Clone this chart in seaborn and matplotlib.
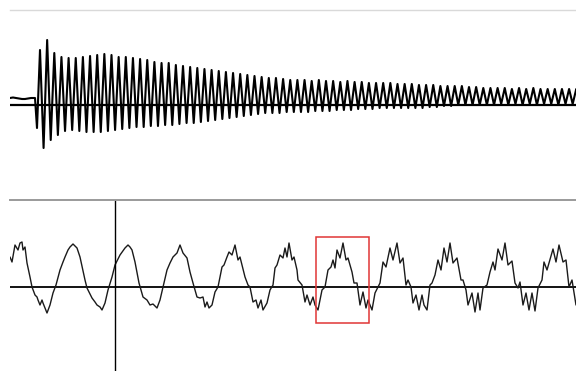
import numpy as np
import pandas as pd
import matplotlib
matplotlib.use("Agg")
import matplotlib.pyplot as plt
import seaborn as sns

# ---- upper trace: plucked tone, one peak and one trough per cycle ----
pre_t = [0, 3, 6, 9, 12, 15, 18, 21, 25, 27]
pre_amp = [7, 7.5, 7, 6.5, 6, 6, 6.5, 7, 7, -23]

cycle_start = 30.0     # time of the first peak
cycle_period = 7.15    # period of one oscillation

peak_amp = [55, 65, 52, 48, 47, 47, 48, 49, 50, 51, 50, 48, 48, 47, 46, 45,
            43, 42, 42, 40, 39, 38, 37,
            36, 35, 34, 33, 32, 31, 30, 29, 28, 27, 27, 26,
            25, 25, 25, 24, 25, 24, 24, 23, 24, 23, 23, 22, 22, 22,
            22, 21, 21, 21, 20, 20, 20, 19, 19, 19, 19, 18, 18,
            17, 17, 17, 17, 16, 17, 16, 17, 16, 16, 16, 16, 16, 16]
trough_amp = [-43, -35, -30, -26, -25, -26, -27, -27, -27, -26, -25, -24,
              -23, -22, -22, -21, -21, -20, -20, -19, -18, -18, -17,
              -16, -15, -14, -13, -12, -11, -10, -9, -8, -8, -8, -7,
              -7, -7, -7, -6, -6, -6, -5, -5, -5, -4, -4, -4, -3, -3,
              -3, -3, -3, -3, -3, -2, -2, -1, -1, 0, 0, 0, 0,
              0, 0, 1, 0, 1, 0, 1, 0, 1, 1, 0, 1, 1, 1]

# ---- lower trace: zoomed waveform with growing harmonic ripple ----
low_px = [10, 12, 15, 18, 20, 22, 23, 25, 27, 30, 32, 35, 37, 38, 40, 42, 43,
          45, 47, 50, 53, 56, 60, 63, 65, 68, 70, 73, 75, 77, 80, 85, 87, 90,
          92, 95, 97, 100, 102, 105, 108, 112, 115, 118, 120, 125, 128, 130,
          132, 135, 139, 143, 147, 150, 153, 157, 160, 163, 167, 170, 173, 177,
          180, 183, 187, 190, 193, 197, 200, 203, 205, 207, 209, 212, 215, 218,
          222, 224, 227, 229, 232, 235, 238, 240, 245, 248, 250, 253, 256, 258,
          261, 263, 267, 270, 273, 275, 277, 280, 283, 285, 287, 289, 292, 294,
          297, 298, 302, 305, 307, 310, 313, 315, 318, 322, 325, 328, 331, 333,
          335, 337, 340, 343, 346, 348, 352, 354, 357, 360, 363, 366, 368, 372,
          375, 378, 380, 383, 386, 390, 393, 397, 400, 403, 406, 408, 411, 413,
          416, 419, 422, 424, 427, 430, 432, 435, 438, 441, 444, 447, 450, 453,
          457, 461, 463, 466, 468, 472, 475, 478, 480, 483, 487, 490, 493, 495,
          498, 502, 505, 508, 512, 515, 518, 520, 523, 526, 529, 532, 535, 538,
          542, 544, 547, 553, 556, 559, 563, 566, 569, 572, 576]
low_py = [257, 262, 245, 250, 243, 242, 250, 247, 263, 277, 287, 295, 297, 300,
          305, 300, 303, 308, 313, 305, 293, 285, 270, 262, 257, 250, 247, 244,
          246, 248, 257, 280, 288, 294, 298, 302, 305, 307, 310, 303, 290, 277,
          265, 259, 255, 248, 245, 247, 250, 262, 283, 297, 300, 305, 304, 308,
          300, 287, 270, 263, 257, 253, 245, 253, 258, 272, 283, 297, 298, 297,
          307, 302, 308, 305, 292, 287, 267, 265, 257, 252, 255, 245, 260, 257,
          277, 285, 287, 302, 300, 308, 300, 310, 303, 290, 285, 268, 265, 255,
          258, 248, 257, 243, 260, 257, 270, 280, 285, 302, 295, 305, 297, 305,
          310, 290, 287, 270, 267, 260, 268, 250, 258, 243, 260, 258, 272, 283,
          283, 305, 292, 308, 300, 310, 293, 287, 283, 262, 267, 248, 260, 243,
          263, 258, 285, 280, 287, 303, 295, 310, 295, 305, 310, 285, 283, 275,
          260, 270, 248, 262, 243, 263, 258, 280, 280, 290, 305, 293, 312, 293,
          310, 288, 285, 272, 262, 270, 249, 260, 243, 265, 261, 283, 288, 282,
          305, 293, 310, 293, 311, 288, 280, 262, 270, 249, 262, 245, 262, 260,
          287, 280, 305]

LOW_ZERO_PX = 287   # screen row of the lower zero line
LOW_LEFT_PX = 10

# red selection box on the lower trace (time span, amplitude span)
box_t = [306, 359]
box_amp = [-36, 50]
marker_t = 105

# ---- assemble tables ----
up_t = list(pre_t)
up_amp = list(pre_amp)
for k, (pa, ta) in enumerate(zip(peak_amp, trough_amp)):
    up_t += [cycle_start + k * cycle_period, cycle_start + (k + 0.5) * cycle_period]
    up_amp += [pa, ta]
upper = pd.DataFrame({"t": up_t, "amp": up_amp, "order": range(len(up_t))})

lower = pd.DataFrame({
    "t": [p - LOW_LEFT_PX for p in low_px],
    "amp": [LOW_ZERO_PX - p for p in low_py],
})
lower["order"] = range(len(lower))

# ---- figure ----
sns.set_style("white")
W, H = 576, 371
fig = plt.figure(figsize=(W / 100, H / 100), dpi=100)
fig.patch.set_facecolor("white")

ax_top = fig.add_axes([10 / W, (H - 200) / H, 566 / W, 190 / H])
ax_bot = fig.add_axes([10 / W, 0, 566 / W, 171 / H])

for ax in (ax_top, ax_bot):
    ax.set_xlim(0, 566)
    ax.set_xticks([])
    ax.set_yticks([])
    ax.set_facecolor("white")
    for side in ("left", "right", "bottom"):
        ax.spines[side].set_visible(False)

ax_top.set_ylim(-95, 95)
ax_bot.set_ylim(-84, 87)
ax_top.spines["top"].set_color("#d9d9d9")
ax_top.spines["top"].set_linewidth(1.0)
ax_bot.spines["top"].set_color("#9a9a9a")
ax_bot.spines["top"].set_linewidth(1.4)

sns.lineplot(data=upper, x="t", y="amp", sort=False, estimator=None,
             color="black", linewidth=1.5, ax=ax_top)
for ln in ax_top.get_lines():
    ln.set_solid_joinstyle("round")
ax_top.axhline(0, color="black", linewidth=1.6, zorder=3)

ax_bot.axhline(0, color="black", linewidth=1.3, zorder=1)
sns.lineplot(data=lower, x="t", y="amp", sort=False, estimator=None,
             color="#1a1a1a", linewidth=1.0, ax=ax_bot, zorder=2)
ax_bot.axvline(marker_t, color="black", linewidth=1.0)
ax_bot.add_patch(plt.Rectangle((box_t[0], box_amp[0]), box_t[1] - box_t[0],
                               box_amp[1] - box_amp[0], fill=False,
                               edgecolor="#e03535", linewidth=1.1, zorder=4))

for ax in (ax_top, ax_bot):
    ax.set_xlabel("")
    ax.set_ylabel("")
    if ax.get_legend() is not None:
        ax.get_legend().remove()

fig.savefig("out.png", dpi=100, facecolor="white")
